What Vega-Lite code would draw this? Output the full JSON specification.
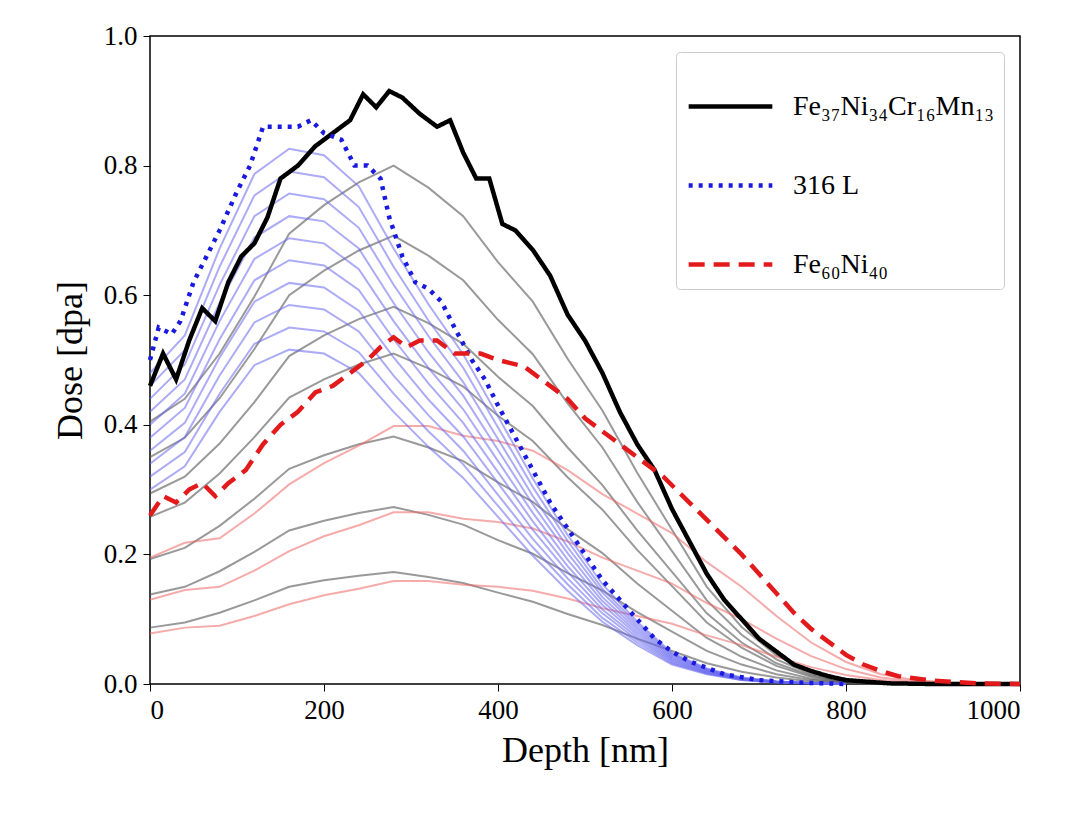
{
  "$schema": "https://vega.github.io/schema/vega-lite/v6.json",
  "width": 870,
  "height": 648,
  "autosize": {"type": "none"},
  "padding": {"left": 150, "top": 36, "right": 60, "bottom": 136},
  "background": "white",
  "config": {
    "font": "Liberation Serif",
    "view": {"stroke": "black", "strokeWidth": 1.5},
    "axis": {"grid": false, "domain": false, "tickColor": "black", "tickSize": 7, "labelColor": "black", "labelFontSize": 27, "titleFontSize": 36, "titleFontWeight": "normal", "titleColor": "black", "labelFont": "Liberation Serif", "titleFont": "Liberation Serif", "labelPadding": 6}
  },
  "datasets": {
    "main": [
      {"s":"Fe₃₇Ni₃₄Cr₁₆Mn₁₃","x":0,"y":0.46},{"s":"Fe₃₇Ni₃₄Cr₁₆Mn₁₃","x":15,"y":0.51},{"s":"Fe₃₇Ni₃₄Cr₁₆Mn₁₃","x":30,"y":0.47},{"s":"Fe₃₇Ni₃₄Cr₁₆Mn₁₃","x":45,"y":0.53},{"s":"Fe₃₇Ni₃₄Cr₁₆Mn₁₃","x":60,"y":0.58},{"s":"Fe₃₇Ni₃₄Cr₁₆Mn₁₃","x":75,"y":0.56},{"s":"Fe₃₇Ni₃₄Cr₁₆Mn₁₃","x":90,"y":0.62},{"s":"Fe₃₇Ni₃₄Cr₁₆Mn₁₃","x":105,"y":0.66},{"s":"Fe₃₇Ni₃₄Cr₁₆Mn₁₃","x":120,"y":0.68},{"s":"Fe₃₇Ni₃₄Cr₁₆Mn₁₃","x":135,"y":0.72},{"s":"Fe₃₇Ni₃₄Cr₁₆Mn₁₃","x":150,"y":0.78},{"s":"Fe₃₇Ni₃₄Cr₁₆Mn₁₃","x":170,"y":0.8},{"s":"Fe₃₇Ni₃₄Cr₁₆Mn₁₃","x":190,"y":0.83},{"s":"Fe₃₇Ni₃₄Cr₁₆Mn₁₃","x":210,"y":0.85},{"s":"Fe₃₇Ni₃₄Cr₁₆Mn₁₃","x":230,"y":0.87},{"s":"Fe₃₇Ni₃₄Cr₁₆Mn₁₃","x":245,"y":0.91},{"s":"Fe₃₇Ni₃₄Cr₁₆Mn₁₃","x":260,"y":0.89},{"s":"Fe₃₇Ni₃₄Cr₁₆Mn₁₃","x":275,"y":0.915},{"s":"Fe₃₇Ni₃₄Cr₁₆Mn₁₃","x":290,"y":0.905},{"s":"Fe₃₇Ni₃₄Cr₁₆Mn₁₃","x":310,"y":0.88},{"s":"Fe₃₇Ni₃₄Cr₁₆Mn₁₃","x":330,"y":0.86},{"s":"Fe₃₇Ni₃₄Cr₁₆Mn₁₃","x":345,"y":0.87},{"s":"Fe₃₇Ni₃₄Cr₁₆Mn₁₃","x":360,"y":0.82},{"s":"Fe₃₇Ni₃₄Cr₁₆Mn₁₃","x":375,"y":0.78},{"s":"Fe₃₇Ni₃₄Cr₁₆Mn₁₃","x":390,"y":0.78},{"s":"Fe₃₇Ni₃₄Cr₁₆Mn₁₃","x":405,"y":0.71},{"s":"Fe₃₇Ni₃₄Cr₁₆Mn₁₃","x":420,"y":0.7},{"s":"Fe₃₇Ni₃₄Cr₁₆Mn₁₃","x":440,"y":0.67},{"s":"Fe₃₇Ni₃₄Cr₁₆Mn₁₃","x":460,"y":0.63},{"s":"Fe₃₇Ni₃₄Cr₁₆Mn₁₃","x":480,"y":0.57},{"s":"Fe₃₇Ni₃₄Cr₁₆Mn₁₃","x":500,"y":0.53},{"s":"Fe₃₇Ni₃₄Cr₁₆Mn₁₃","x":520,"y":0.48},{"s":"Fe₃₇Ni₃₄Cr₁₆Mn₁₃","x":540,"y":0.42},{"s":"Fe₃₇Ni₃₄Cr₁₆Mn₁₃","x":560,"y":0.37},{"s":"Fe₃₇Ni₃₄Cr₁₆Mn₁₃","x":580,"y":0.33},{"s":"Fe₃₇Ni₃₄Cr₁₆Mn₁₃","x":600,"y":0.27},{"s":"Fe₃₇Ni₃₄Cr₁₆Mn₁₃","x":620,"y":0.22},{"s":"Fe₃₇Ni₃₄Cr₁₆Mn₁₃","x":640,"y":0.17},{"s":"Fe₃₇Ni₃₄Cr₁₆Mn₁₃","x":660,"y":0.13},{"s":"Fe₃₇Ni₃₄Cr₁₆Mn₁₃","x":680,"y":0.1},{"s":"Fe₃₇Ni₃₄Cr₁₆Mn₁₃","x":700,"y":0.07},{"s":"Fe₃₇Ni₃₄Cr₁₆Mn₁₃","x":720,"y":0.05},{"s":"Fe₃₇Ni₃₄Cr₁₆Mn₁₃","x":740,"y":0.03},{"s":"Fe₃₇Ni₃₄Cr₁₆Mn₁₃","x":760,"y":0.02},{"s":"Fe₃₇Ni₃₄Cr₁₆Mn₁₃","x":780,"y":0.012},{"s":"Fe₃₇Ni₃₄Cr₁₆Mn₁₃","x":800,"y":0.006},{"s":"Fe₃₇Ni₃₄Cr₁₆Mn₁₃","x":850,"y":0.001},{"s":"Fe₃₇Ni₃₄Cr₁₆Mn₁₃","x":900,"y":0},{"s":"Fe₃₇Ni₃₄Cr₁₆Mn₁₃","x":1000,"y":0},
      {"s":"316 L","x":0,"y":0.5},{"s":"316 L","x":10,"y":0.55},{"s":"316 L","x":25,"y":0.54},{"s":"316 L","x":35,"y":0.56},{"s":"316 L","x":50,"y":0.62},{"s":"316 L","x":65,"y":0.66},{"s":"316 L","x":80,"y":0.7},{"s":"316 L","x":100,"y":0.76},{"s":"316 L","x":115,"y":0.8},{"s":"316 L","x":130,"y":0.86},{"s":"316 L","x":150,"y":0.86},{"s":"316 L","x":170,"y":0.86},{"s":"316 L","x":185,"y":0.87},{"s":"316 L","x":200,"y":0.85},{"s":"316 L","x":220,"y":0.84},{"s":"316 L","x":235,"y":0.8},{"s":"316 L","x":250,"y":0.8},{"s":"316 L","x":265,"y":0.78},{"s":"316 L","x":275,"y":0.72},{"s":"316 L","x":290,"y":0.66},{"s":"316 L","x":305,"y":0.62},{"s":"316 L","x":320,"y":0.61},{"s":"316 L","x":335,"y":0.59},{"s":"316 L","x":350,"y":0.55},{"s":"316 L","x":370,"y":0.5},{"s":"316 L","x":385,"y":0.47},{"s":"316 L","x":400,"y":0.43},{"s":"316 L","x":420,"y":0.38},{"s":"316 L","x":440,"y":0.33},{"s":"316 L","x":460,"y":0.28},{"s":"316 L","x":480,"y":0.24},{"s":"316 L","x":500,"y":0.2},{"s":"316 L","x":520,"y":0.16},{"s":"316 L","x":540,"y":0.13},{"s":"316 L","x":560,"y":0.1},{"s":"316 L","x":580,"y":0.07},{"s":"316 L","x":600,"y":0.05},{"s":"316 L","x":620,"y":0.035},{"s":"316 L","x":640,"y":0.025},{"s":"316 L","x":660,"y":0.015},{"s":"316 L","x":700,"y":0.006},{"s":"316 L","x":750,"y":0.002},{"s":"316 L","x":800,"y":0},
      {"s":"Fe₆₀Ni₄₀","x":0,"y":0.26},{"s":"Fe₆₀Ni₄₀","x":15,"y":0.29},{"s":"Fe₆₀Ni₄₀","x":30,"y":0.28},{"s":"Fe₆₀Ni₄₀","x":45,"y":0.3},{"s":"Fe₆₀Ni₄₀","x":60,"y":0.31},{"s":"Fe₆₀Ni₄₀","x":75,"y":0.29},{"s":"Fe₆₀Ni₄₀","x":90,"y":0.31},{"s":"Fe₆₀Ni₄₀","x":110,"y":0.33},{"s":"Fe₆₀Ni₄₀","x":130,"y":0.37},{"s":"Fe₆₀Ni₄₀","x":150,"y":0.4},{"s":"Fe₆₀Ni₄₀","x":170,"y":0.42},{"s":"Fe₆₀Ni₄₀","x":190,"y":0.45},{"s":"Fe₆₀Ni₄₀","x":210,"y":0.46},{"s":"Fe₆₀Ni₄₀","x":230,"y":0.48},{"s":"Fe₆₀Ni₄₀","x":250,"y":0.5},{"s":"Fe₆₀Ni₄₀","x":265,"y":0.52},{"s":"Fe₆₀Ni₄₀","x":280,"y":0.535},{"s":"Fe₆₀Ni₄₀","x":295,"y":0.52},{"s":"Fe₆₀Ni₄₀","x":310,"y":0.53},{"s":"Fe₆₀Ni₄₀","x":330,"y":0.53},{"s":"Fe₆₀Ni₄₀","x":350,"y":0.51},{"s":"Fe₆₀Ni₄₀","x":380,"y":0.51},{"s":"Fe₆₀Ni₄₀","x":400,"y":0.5},{"s":"Fe₆₀Ni₄₀","x":430,"y":0.49},{"s":"Fe₆₀Ni₄₀","x":460,"y":0.46},{"s":"Fe₆₀Ni₄₀","x":480,"y":0.44},{"s":"Fe₆₀Ni₄₀","x":500,"y":0.41},{"s":"Fe₆₀Ni₄₀","x":520,"y":0.39},{"s":"Fe₆₀Ni₄₀","x":560,"y":0.35},{"s":"Fe₆₀Ni₄₀","x":590,"y":0.32},{"s":"Fe₆₀Ni₄₀","x":620,"y":0.28},{"s":"Fe₆₀Ni₄₀","x":650,"y":0.24},{"s":"Fe₆₀Ni₄₀","x":680,"y":0.2},{"s":"Fe₆₀Ni₄₀","x":700,"y":0.17},{"s":"Fe₆₀Ni₄₀","x":720,"y":0.14},{"s":"Fe₆₀Ni₄₀","x":740,"y":0.11},{"s":"Fe₆₀Ni₄₀","x":760,"y":0.085},{"s":"Fe₆₀Ni₄₀","x":780,"y":0.065},{"s":"Fe₆₀Ni₄₀","x":800,"y":0.045},{"s":"Fe₆₀Ni₄₀","x":820,"y":0.03},{"s":"Fe₆₀Ni₄₀","x":840,"y":0.02},{"s":"Fe₆₀Ni₄₀","x":860,"y":0.012},{"s":"Fe₆₀Ni₄₀","x":900,"y":0.005},{"s":"Fe₆₀Ni₄₀","x":950,"y":0.001},{"s":"Fe₆₀Ni₄₀","x":1000,"y":0}
    ],
    "faded": [
      {"x":0,"g1":0.405,"g2":0.35,"g3":0.294,"g4":0.258,"g5":0.193,"g6":0.138,"g7":0.087,"l1":0.48,"l2":0.46,"l3":0.44,"l4":0.42,"l5":0.4,"l6":0.38,"l7":0.36,"l8":0.34,"l9":0.32,"l10":0.3,"p1":0.195,"p2":0.13,"p3":0.078},
      {"x":40,"g1":0.44,"g2":0.38,"g3":0.32,"g4":0.28,"g5":0.21,"g6":0.15,"g7":0.095,"l1":0.538,"l2":0.515,"l3":0.493,"l4":0.47,"l5":0.448,"l6":0.426,"l7":0.403,"l8":0.381,"l9":0.358,"l10":0.336,"p1":0.218,"p2":0.145,"p3":0.087},
      {"x":80,"g1":0.51,"g2":0.441,"g3":0.371,"g4":0.325,"g5":0.244,"g6":0.174,"g7":0.11,"l1":0.672,"l2":0.644,"l3":0.616,"l4":0.588,"l5":0.56,"l6":0.532,"l7":0.504,"l8":0.476,"l9":0.448,"l10":0.42,"p1":0.225,"p2":0.15,"p3":0.09},
      {"x":120,"g1":0.598,"g2":0.517,"g3":0.435,"g4":0.381,"g5":0.286,"g6":0.204,"g7":0.129,"l1":0.787,"l2":0.754,"l3":0.722,"l4":0.689,"l5":0.656,"l6":0.623,"l7":0.59,"l8":0.558,"l9":0.525,"l10":0.492,"p1":0.263,"p2":0.175,"p3":0.105},
      {"x":160,"g1":0.695,"g2":0.6,"g3":0.506,"g4":0.442,"g5":0.332,"g6":0.237,"g7":0.15,"l1":0.826,"l2":0.791,"l3":0.757,"l4":0.722,"l5":0.688,"l6":0.654,"l7":0.619,"l8":0.585,"l9":0.55,"l10":0.516,"p1":0.308,"p2":0.205,"p3":0.123},
      {"x":200,"g1":0.739,"g2":0.638,"g3":0.538,"g4":0.47,"g5":0.353,"g6":0.252,"g7":0.16,"l1":0.816,"l2":0.782,"l3":0.748,"l4":0.714,"l5":0.68,"l6":0.646,"l7":0.612,"l8":0.578,"l9":0.544,"l10":0.51,"p1":0.341,"p2":0.228,"p3":0.137},
      {"x":240,"g1":0.774,"g2":0.669,"g3":0.563,"g4":0.493,"g5":0.37,"g6":0.264,"g7":0.167,"l1":0.768,"l2":0.736,"l3":0.704,"l4":0.672,"l5":0.64,"l6":0.608,"l7":0.576,"l8":0.544,"l9":0.512,"l10":0.48,"p1":0.368,"p2":0.245,"p3":0.147},
      {"x":280,"g1":0.8,"g2":0.692,"g3":0.582,"g4":0.51,"g5":0.382,"g6":0.273,"g7":0.173,"l1":0.672,"l2":0.644,"l3":0.616,"l4":0.588,"l5":0.56,"l6":0.532,"l7":0.504,"l8":0.476,"l9":0.448,"l10":0.42,"p1":0.398,"p2":0.265,"p3":0.159},
      {"x":320,"g1":0.766,"g2":0.661,"g3":0.557,"g4":0.487,"g5":0.365,"g6":0.261,"g7":0.165,"l1":0.586,"l2":0.561,"l3":0.537,"l4":0.512,"l5":0.488,"l6":0.464,"l7":0.439,"l8":0.415,"l9":0.39,"l10":0.366,"p1":0.398,"p2":0.265,"p3":0.159},
      {"x":360,"g1":0.722,"g2":0.623,"g3":0.525,"g4":0.459,"g5":0.344,"g6":0.246,"g7":0.156,"l1":0.509,"l2":0.488,"l3":0.466,"l4":0.445,"l5":0.424,"l6":0.403,"l7":0.382,"l8":0.36,"l9":0.339,"l10":0.318,"p1":0.383,"p2":0.255,"p3":0.153},
      {"x":400,"g1":0.651,"g2":0.562,"g3":0.474,"g4":0.414,"g5":0.311,"g6":0.222,"g7":0.141,"l1":0.413,"l2":0.396,"l3":0.378,"l4":0.361,"l5":0.344,"l6":0.327,"l7":0.31,"l8":0.292,"l9":0.275,"l10":0.258,"p1":0.375,"p2":0.25,"p3":0.15},
      {"x":440,"g1":0.59,"g2":0.509,"g3":0.429,"g4":0.375,"g5":0.281,"g6":0.201,"g7":0.127,"l1":0.317,"l2":0.304,"l3":0.29,"l4":0.277,"l5":0.264,"l6":0.251,"l7":0.238,"l8":0.224,"l9":0.211,"l10":0.198,"p1":0.36,"p2":0.24,"p3":0.144},
      {"x":480,"g1":0.502,"g2":0.433,"g3":0.365,"g4":0.319,"g5":0.239,"g6":0.171,"g7":0.108,"l1":0.23,"l2":0.221,"l3":0.211,"l4":0.202,"l5":0.192,"l6":0.182,"l7":0.173,"l8":0.163,"l9":0.154,"l10":0.144,"p1":0.33,"p2":0.22,"p3":0.132},
      {"x":520,"g1":0.422,"g2":0.365,"g3":0.307,"g4":0.269,"g5":0.202,"g6":0.144,"g7":0.091,"l1":0.154,"l2":0.147,"l3":0.141,"l4":0.134,"l5":0.128,"l6":0.122,"l7":0.115,"l8":0.109,"l9":0.102,"l10":0.096,"p1":0.293,"p2":0.195,"p3":0.117},
      {"x":560,"g1":0.326,"g2":0.281,"g3":0.237,"g4":0.207,"g5":0.155,"g6":0.111,"g7":0.07,"l1":0.096,"l2":0.092,"l3":0.088,"l4":0.084,"l5":0.08,"l6":0.076,"l7":0.072,"l8":0.068,"l9":0.064,"l10":0.06,"p1":0.263,"p2":0.175,"p3":0.105},
      {"x":600,"g1":0.238,"g2":0.205,"g3":0.173,"g4":0.151,"g5":0.113,"g6":0.081,"g7":0.051,"l1":0.048,"l2":0.046,"l3":0.044,"l4":0.042,"l5":0.04,"l6":0.038,"l7":0.036,"l8":0.034,"l9":0.032,"l10":0.03,"p1":0.233,"p2":0.155,"p3":0.093},
      {"x":640,"g1":0.15,"g2":0.129,"g3":0.109,"g4":0.095,"g5":0.071,"g6":0.051,"g7":0.032,"l1":0.024,"l2":0.023,"l3":0.022,"l4":0.021,"l5":0.02,"l6":0.019,"l7":0.018,"l8":0.017,"l9":0.016,"l10":0.015,"p1":0.188,"p2":0.125,"p3":0.075},
      {"x":680,"g1":0.088,"g2":0.076,"g3":0.064,"g4":0.056,"g5":0.042,"g6":0.03,"g7":0.019,"l1":0.01,"l2":0.009,"l3":0.009,"l4":0.008,"l5":0.008,"l6":0.008,"l7":0.007,"l8":0.007,"l9":0.006,"l10":0.006,"p1":0.15,"p2":0.1,"p3":0.06},
      {"x":720,"g1":0.044,"g2":0.038,"g3":0.032,"g4":0.028,"g5":0.021,"g6":0.015,"g7":0.01,"l1":0.004,"l2":0.004,"l3":0.004,"l4":0.003,"l5":0.003,"l6":0.003,"l7":0.003,"l8":0.003,"l9":0.003,"l10":0.002,"p1":0.105,"p2":0.07,"p3":0.042},
      {"x":760,"g1":0.018,"g2":0.015,"g3":0.013,"g4":0.011,"g5":0.008,"g6":0.006,"g7":0.004,"l1":0.001,"l2":0.001,"l3":0.001,"l4":0.001,"l5":0.001,"l6":0.001,"l7":0.001,"l8":0.001,"l9":0.001,"l10":0.001,"p1":0.064,"p2":0.043,"p3":0.026},
      {"x":800,"g1":0.005,"g2":0.005,"g3":0.004,"g4":0.003,"g5":0.003,"g6":0.002,"g7":0.001,"l1":0,"l2":0,"l3":0,"l4":0,"l5":0,"l6":0,"l7":0,"l8":0,"l9":0,"l10":0,"p1":0.034,"p2":0.023,"p3":0.014},
      {"x":840,"g1":0,"g2":0,"g3":0,"g4":0,"g5":0,"g6":0,"g7":0,"p1":0.015,"p2":0.01,"p3":0.006},
      {"x":880,"p1":0.006,"p2":0.004,"p3":0.002},
      {"x":920,"p1":0.002,"p2":0.002,"p3":0.001},
      {"x":960,"p1":0.001,"p2":0.001,"p3":0},
      {"x":1000,"p1":0,"p2":0,"p3":0}
    ]
  },
  "encoding": {
    "x": {"field": "x", "type": "quantitative", "scale": {"domain": [0, 1000], "nice": false}, "axis": {"values": [0,200,400,600,800,1000], "format": "d", "title": "Depth [nm]", "titlePadding": 10}},
    "y": {"field": "y", "type": "quantitative", "scale": {"domain": [0, 1], "nice": false}, "axis": {"values": [0,0.2,0.4,0.6,0.8,1.0], "format": ".1f", "title": "Dose [dpa]", "titlePadding": 14}}
  },
  "layer": [
    {
      "data": {"name": "faded"},
      "transform": [{"fold": ["g1","g2","g3","g4","g5","g6","g7"], "as": ["k", "y"]}, {"filter": "isValid(datum.y)"}],
      "mark": {"type": "line", "color": "#555555", "opacity": 0.6, "strokeWidth": 2},
      "encoding": {"detail": {"field": "k"}}
    },
    {
      "data": {"name": "faded"},
      "transform": [{"fold": ["p1","p2","p3"], "as": ["k", "y"]}, {"filter": "isValid(datum.y)"}],
      "mark": {"type": "line", "color": "#ee6666", "opacity": 0.55, "strokeWidth": 2},
      "encoding": {"detail": {"field": "k"}}
    },
    {
      "data": {"name": "faded"},
      "transform": [{"fold": ["l1","l2","l3","l4","l5","l6","l7","l8","l9","l10"], "as": ["k", "y"]}, {"filter": "isValid(datum.y)"}],
      "mark": {"type": "line", "color": "#6666ee", "opacity": 0.55, "strokeWidth": 2},
      "encoding": {"detail": {"field": "k"}}
    },
    {
      "data": {"name": "main"},
      "mark": {"type": "line", "strokeWidth": 4.5},
      "encoding": {
        "color": {"field": "s", "type": "nominal", "scale": {"domain": ["Fe₃₇Ni₃₄Cr₁₆Mn₁₃", "316 L", "Fe₆₀Ni₄₀"], "range": ["black", "#1a1adf", "#e31a1c"]},
          "legend": {"title": null, "orient": "top-right", "offset": 16, "symbolType": "stroke", "symbolSize": 7000, "symbolStrokeWidth": 4.5, "labelFontSize": 28, "labelFont": "Liberation Serif", "labelColor": "black", "labelLimit": 500, "rowPadding": 20, "padding": 10, "strokeColor": "#cccccc", "fillColor": "white", "cornerRadius": 4, "labelOffset": 18}},
        "strokeDash": {"field": "s", "type": "nominal", "scale": {"domain": ["Fe₃₇Ni₃₄Cr₁₆Mn₁₃", "316 L", "Fe₆₀Ni₄₀"], "range": [[1, 0], [4, 6], [16, 9]]}, "legend": null},
        "order": {"field": "x", "type": "quantitative"}
      }
    }
  ]
}
